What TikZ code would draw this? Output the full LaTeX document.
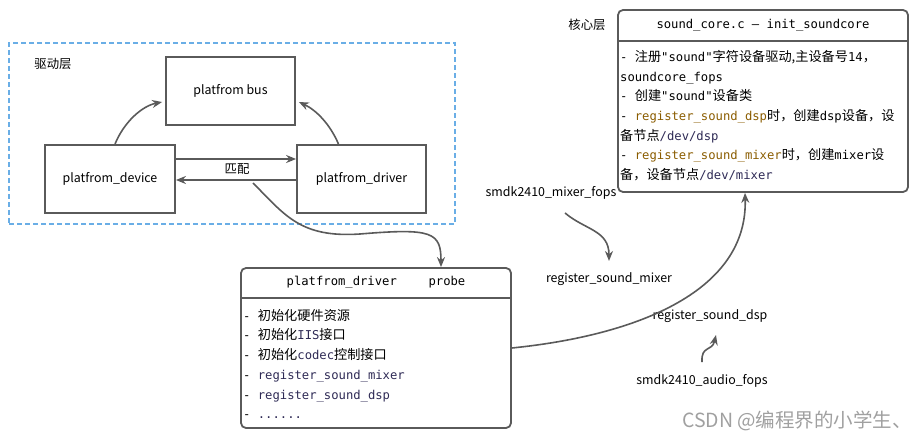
\documentclass[tikz,border=0pt]{standalone}
\usepackage{fontspec}
\usepackage{tikz}
\usetikzlibrary{arrows.meta}
\setmainfont{Noto Sans CJK SC}
\newfontfamily\monofont{DejaVu Sans Mono}
\newfontfamily\zhfont[Scale=1.08]{Noto Sans CJK SC}
\newcommand\zh[1]{{\zhfont #1}}
\definecolor{linegray}{HTML}{5A5A5A}
\definecolor{layerblue}{HTML}{6AAEE6}
\definecolor{codebrown}{HTML}{8A5C00}
\definecolor{codenavy}{HTML}{2E2A55}
\definecolor{markgray}{HTML}{A0A0A0}

\begin{document}
\begin{tikzpicture}[x=1pt,y=1pt,
  font=\fontsize{12.4}{15}\selectfont,
  box/.style={draw=linegray,line width=1.8pt,minimum height=68pt,inner sep=0pt},
  card/.style={draw=linegray,line width=1.8pt,rounded corners=5pt,inner sep=0pt},
  layerbox/.style={draw=layerblue,line width=1.4pt,dash pattern=on 5pt off 3pt,inner sep=0pt},
  code/.style={font=\monofont\fontsize{12.2}{19.7}\selectfont},
  flow/.style={draw=linegray,line width=1.6pt,-{Stealth[length=10pt,width=8pt]}}]
\useasboundingbox (0,0) rectangle (919,-441);
\node[layerbox, minimum width=446pt, minimum height=181pt] (drvlayer) at (232,-133.5) {};
\node (drvlabel) at (53,-64) {驱动层};
\node[box, minimum width=129pt] (bus) at (230.5,-91) {platfrom bus};
\node[box, minimum width=130pt] (device) at (110,-179) {platfrom\_device};
\node[box, minimum width=129pt] (driver) at (361.5,-179) {platfrom\_driver};
\node (matchlbl) at (237,-169) {匹配};
\coordinate (matchtail) at (253,-183);
\node[card, minimum width=270pt, minimum height=160pt] (probe) at (376,-348) {};
\draw[linegray, line width=1.8pt] ([yshift=-31pt]probe.north west) -- ([yshift=-31pt]probe.north east);
\node[code] (probetitle) at (376,-282) {platfrom\_driver\hspace{2.6em}probe};
\node[code, anchor=north west, align=left, inner sep=0pt] (probelist) at (243,-309) {
  - \zh{初始化硬件资源}\\
  - \zh{初始化}\textcolor{codenavy}{IIS}\zh{接口}\\
  - \zh{初始化}\textcolor{codenavy}{codec}\zh{控制接口}\\
  - \textcolor{codenavy}{register\_sound\_mixer}\\
  - \textcolor{codenavy}{register\_sound\_dsp}\\
  - \textcolor{codenavy}{......}};
\node[card, minimum width=290pt, minimum height=182pt] (core) at (763,-101) {};
\draw[linegray, line width=1.8pt] ([yshift=-32pt]core.north west) -- ([yshift=-32pt]core.north east);
\node[code] (coretitle) at (763,-25) {sound\_core.c — init\_soundcore};
\node (corelabel) at (587,-25) {核心层};
\node[code, anchor=north west, align=left, inner sep=0pt] (corelist) at (620,-50) {
  - \zh{注册}"sound"\zh{字符设备驱动,主设备号}14\zh{，}\\
  soundcore\_fops\\
  - \zh{创建}"sound"\zh{设备类}\\
  - \textcolor{codebrown}{register\_sound\_dsp}\zh{时，创建}dsp\zh{设备，设}\\
  \zh{备节点}\textcolor{codenavy}{/dev/dsp}\\
  - \textcolor{codebrown}{register\_sound\_mixer}\zh{时，创建}mixer\zh{设}\\
  \zh{备，设备节点}\textcolor{codenavy}{/dev/mixer}};
\node (mixfops) at (551,-193) {smdk2410\_mixer\_fops};
\node (regmix) at (609,-279) {register\_sound\_mixer};
\node (regdsp) at (710,-316) {register\_sound\_dsp};
\node (audiofops) at (702,-381) {smdk2410\_audio\_fops};
\node[text=markgray, font=\fontsize{19.5}{21}\selectfont] (mark) at (797,-421) {CSDN @编程界的小学生、};
\draw[flow] ([xshift=5pt]device.north) .. controls (124,-122) and (142,-106) .. ([yshift=-11pt,xshift=-3pt]bus.west);
\draw[flow] ([xshift=-23pt]driver.north) .. controls (330,-124) and (316,-110) .. ([yshift=-11pt,xshift=3pt]bus.east);
\draw[flow] ([yshift=20pt]device.east) -- ([yshift=20pt]driver.west);
\draw[flow] ([yshift=-1pt]driver.west) -- ([yshift=-1pt]device.east);
\draw[flow] (matchtail) .. controls (285,-215) and (300,-238) .. (360,-234) .. controls (432,-228) and (441,-232) .. ([xshift=65pt]probe.north);
\draw[flow] (probe.east) .. controls (640,-335) and (748,-290) .. ([xshift=-18pt]core.south);
\draw[flow] ([yshift=-10pt,xshift=14pt]mixfops.south) .. controls (585,-230) and (609,-230) .. ([yshift=8pt]regmix.north);
\draw[flow] ([yshift=9pt]audiofops.north) .. controls (701,-345) and (712,-352) .. ([yshift=-9pt,xshift=6pt]regdsp.south);
\end{tikzpicture}
\end{document}
